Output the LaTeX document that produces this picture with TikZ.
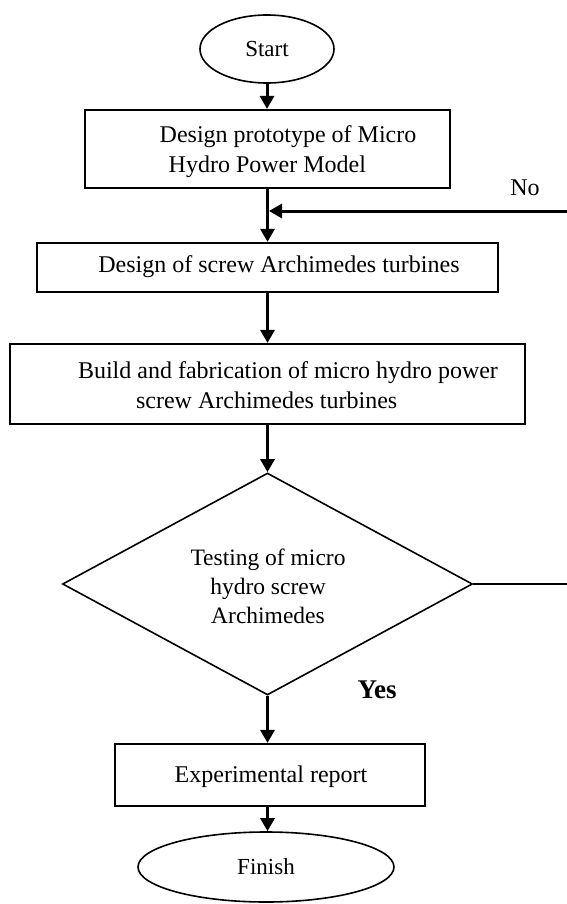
\documentclass[tikz,border=0pt]{standalone}
\usepackage{fontspec}
\setmainfont{Liberation Serif}
\usetikzlibrary{arrows.meta,shapes.geometric}
\begin{document}
\begin{tikzpicture}[x=1pt,y=-1pt,
  every node/.style={font=\fontsize{24}{30}\selectfont},
  box/.style={draw, line width=2.2pt, rectangle, inner sep=0pt},
  term/.style={draw, line width=1.6pt, ellipse, inner sep=0pt, font=\fontsize{23}{29}\selectfont},
  txt/.style={align=left, inner sep=0pt},
  flow/.style={line width=3pt, -{Triangle[length=13pt,width=14pt]}},
]
\useasboundingbox (0,0) rectangle (567,904);

\node[term, minimum width=134pt, minimum height=68pt] (start) at (267,49) {Start};

\node[box, minimum width=365pt, minimum height=78pt] (b1) at (267.5,149) {};
\node[txt] (t1) at (288,152) {Design prototype of Micro\\\hspace*{9pt}Hydro Power Model};

\node[box, minimum width=461pt, minimum height=49pt] (b2) at (267.5,267.5) {};
\node[txt] (t2) at (279,267) {Design of screw Archimedes turbines};

\node[box, minimum width=515pt, minimum height=80pt] (b3) at (267.5,384) {};
\node[txt] (t3) at (288,385) {Build and fabrication of micro hydro power\\\hspace*{58pt}screw Archimedes turbines};

\node[draw, diamond, line width=1.6pt, minimum width=410pt, minimum height=222pt, inner sep=0pt] (d) at (267.5,584) {};
\node[txt, align=center, font=\fontsize{23.5}{29}\selectfont] (td) at (268,586) {Testing of micro\\hydro screw\\Archimedes};

\node[box, minimum width=310pt, minimum height=62pt] (b5) at (270,775) {};
\node[txt] (t5) at (271,777) {Experimental report};

\node[term, minimum width=256pt, minimum height=70pt] (fin) at (266,867) {Finish};

\node[font=\fontsize{27}{30}\selectfont\bfseries] (yes) at (377,690) {Yes};
\node (no) at (525,188) {No};

\draw[flow] (start.south) -- (start.south |- b1.north);
\draw[flow] (b1.south) -- (b2.north);
\draw[flow] (b2.south) -- (b3.north);
\draw[flow] (b3.south) -- (d.north);
\draw[flow] (d.south) -- (d.south |- b5.north);
\draw[flow] (b5.south -| d.south) -- (d.south |- fin.north);

\coordinate (nr) at (567,584);
\coordinate (nt) at (567,211);
\draw[line width=2.2pt] (d.east) -- (nr);
\draw[flow] (nt) -- ([xshift=1.5pt]nt -| b1.south);
\end{tikzpicture}
\end{document}
